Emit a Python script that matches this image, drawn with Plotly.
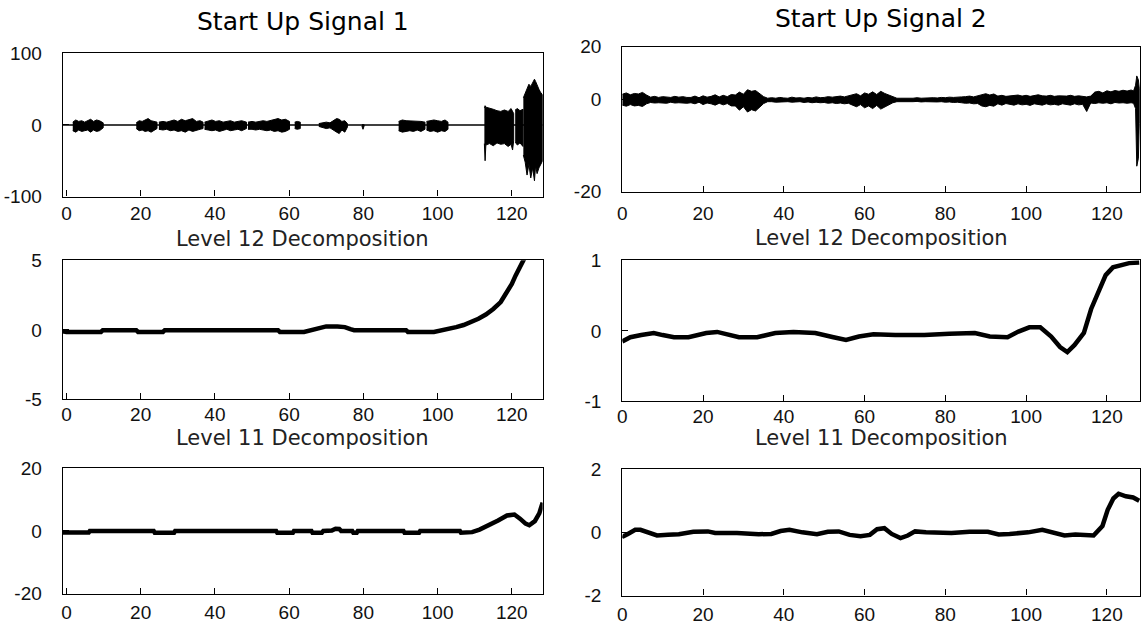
import plotly.graph_objects as go

# ---------------- Start Up Signal 1 (raw record) ----------------
s1_span = [-1.0, 128.3]          # record start / end on the time axis
# each burst: sample times, upper envelope, lower envelope
s1_burst_x = [
    [1.7, 2.5, 3.3, 4.1, 4.9, 5.7, 6.5, 7.3, 8.1, 8.9, 9.9],
    [18.8, 19.6, 20.4, 21.2, 22.0, 22.8, 23.6, 24.4],
    [24.9, 26, 27, 28, 29, 30, 31, 32, 33, 34, 35, 36, 36.8],
    [37.2, 38.2, 39.2, 40.2, 41.2, 42.2, 43.2, 44.2, 45.2, 46.2, 47.2, 48.5],
    [48.9, 50, 51, 52, 53, 54, 55, 56, 57, 58, 59, 60.1],
    [61.5, 62.2, 63.0],
    [68.0, 69.0, 70.0, 71.0, 72.0, 72.8, 73.5, 74.2, 75.0, 75.7],
    [79.6, 79.9, 80.2],
    [89.5, 90.5, 91.5, 92.5, 93.5, 94.5, 95.5, 96.6],
    [97.0, 98.0, 99.0, 100.0, 101.0, 102.0, 102.8],
    [112.6, 112.8, 113.0, 114, 115, 116, 117, 118, 119, 119.8, 120.2, 120.5],
    [120.9, 121.5, 122.2, 123.0],
    [123.1, 123.6, 124.1, 124.6, 125.1, 125.6, 126.1, 126.4, 126.8, 127.3, 127.7, 128.3],
]
s1_burst_hi = [
    [4, 7, 5, 6, 4, 6, 8, 5, 7, 6, 3],
    [3, 6, 5, 7, 9, 6, 5, 4],
    [4, 5, 4, 6, 7, 5, 8, 6, 7, 9, 5, 6, 4],
    [4, 5, 7, 5, 6, 4, 5, 6, 4, 5, 6, 4],
    [4, 5, 4, 5, 6, 5, 6, 7, 9, 7, 8, 5],
    [4, 5, 4],
    [2, 3, 4, 3, 6, 9, 8, 5, 6, 2],
    [0.5, 1, 0.5],
    [5, 7, 6, 6, 5, 6, 5, 4],
    [5, 6, 7, 6, 5, 7, 4],
    [24, 27, 25, 24, 22, 20, 19, 21, 19, 23, 20, 16],
    [21, 23, 20, 22],
    [38, 45, 52, 57, 54, 60, 64, 61, 55, 50, 46, 42],
]
s1_burst_lo = [
    [-8, -10, -7, -9, -8, -7, -10, -7, -9, -8, -4],
    [-5, -8, -7, -9, -8, -10, -7, -5],
    [-6, -7, -6, -8, -7, -9, -8, -10, -7, -9, -8, -6, -5],
    [-6, -7, -8, -7, -9, -7, -6, -8, -7, -6, -8, -5],
    [-6, -6, -7, -6, -7, -8, -7, -9, -8, -10, -9, -6],
    [-5, -6, -5],
    [-2, -3, -5, -4, -7, -10, -12, -7, -10, -3],
    [-1.5, -6, -1.5],
    [-8, -10, -9, -8, -9, -7, -9, -6],
    [-7, -9, -8, -10, -8, -9, -6],
    [-26, -50, -28, -26, -29, -25, -27, -26, -30, -27, -35, -22],
    [-24, -28, -25, -30],
    [-42, -52, -70, -55, -74, -60, -78, -57, -68, -60, -55, -50],
]

# ---------------- Start Up Signal 2 (raw record, envelope) ----------------
s2_x = [0, 1, 2, 3, 4, 5, 6,
        7, 8, 9, 10, 11, 12, 13, 14, 15, 16,
        17, 18, 19, 20, 21, 22, 23, 24, 25, 26, 27,
        28, 29, 30, 31, 32, 33, 34, 35,
        36, 37, 38, 39, 40, 41, 42, 43, 44, 45, 46, 47, 48, 49, 50, 51, 52, 53, 54, 55, 56,
        57, 58, 59, 60, 61, 62, 63, 64, 65, 66, 67,
        68, 69, 70, 71, 72, 73, 74, 75, 76, 77, 78, 79, 80, 81, 82, 83, 84,
        85, 86, 87, 88,
        89, 90, 91, 92,
        93, 94, 95, 96, 97, 98, 99, 100, 101, 102, 103, 104, 105, 106, 107, 108, 109, 110, 111, 112, 113, 114,
        115,
        116, 117, 118, 119, 120, 121, 122, 123, 124, 125, 126,
        126.6, 127.1, 127.4, 127.8, 128.0]
s2_hi = [2.1, 2.6, 1.9, 2.4, 2.2, 2.8, 1.8,
         1.0, 1.3, 0.9, 1.2, 1.1, 0.9, 1.3, 1.0, 1.2, 0.9,
         0.9, 1.4, 0.8, 1.5, 1.0, 1.3, 1.9, 1.1, 1.7, 1.2, 2.0,
         1.8, 2.9, 2.1, 3.8, 3.2, 3.5, 2.3, 1.2,
         0.6, 0.8, 0.6, 0.9, 0.7, 0.6, 1.0, 0.7, 0.8, 0.6, 0.9, 0.7, 1.1, 0.8, 0.9, 1.2, 1.0, 1.1, 1.4, 1.1, 1.5,
         1.8, 2.3, 1.5, 2.6, 2.1, 3.0, 2.0, 3.2, 2.4, 1.8, 1.1,
         0.6, 0.6, 0.7, 0.6, 0.6, 0.8, 0.6, 0.7, 0.6, 0.8, 0.7, 0.9, 0.8, 1.0, 0.9, 1.1, 1.1,
         1.2, 1.4, 1.1, 1.5,
         2.0, 2.3, 1.8, 2.2,
         1.4, 1.7, 1.3, 1.5, 1.5, 1.8, 1.4, 1.7, 1.3, 1.5, 1.9, 1.5, 1.4, 1.7, 1.3, 1.5, 1.5, 1.4, 1.7, 1.3, 1.5, 1.4,
         1.1,
         1.4, 2.9, 3.2, 2.6, 3.4, 3.0, 3.5, 3.2, 3.6, 3.3, 3.7,
         3.3, 5.5, 9.0, 7.5, 4.4]
s2_lo = [-2.0, -2.4, -1.8, -2.3, -2.1, -2.5, -1.5,
         -1.0, -1.2, -1.1, -1.1, -1.3, -0.9, -1.2, -1.1, -1.1, -1.3,
         -1.1, -1.5, -0.9, -1.8, -1.2, -1.5, -2.0, -1.3, -1.9, -1.4, -2.3,
         -2.3, -3.9, -2.6, -4.6, -3.7, -4.2, -2.9, -1.4,
         -0.7, -0.7, -0.9, -0.7, -0.8, -0.7, -0.9, -0.8, -0.7, -1.0, -0.8, -1.1, -0.9, -1.1, -1.0, -1.3, -1.1, -1.4, -1.2, -1.5, -1.3,
         -2.0, -2.6, -1.8, -3.0, -2.3, -3.3, -2.1, -3.5, -2.6, -2.0, -1.1,
         -0.7, -0.7, -0.6, -0.7, -0.7, -0.6, -0.8, -0.7, -0.7, -0.7, -0.8, -0.7, -0.9, -0.8, -1.0, -0.9, -1.1,
         -1.3, -1.2, -1.5, -1.4,
         -2.3, -2.6, -2.1, -2.4,
         -1.5, -2.0, -1.4, -1.8, -2.0, -1.5, -1.9, -1.7, -2.1, -1.5, -1.8, -2.0, -1.5, -1.9, -1.7, -2.0, -1.5, -1.8, -2.0, -1.5, -1.9, -1.7,
         -4.4,
         -1.2, -1.4, -1.1, -1.3, -1.1, -1.5, -1.0, -1.2, -1.1, -1.3, -1.1,
         -1.3, -3.3, -25.0, -22.0, -9.0]

# ---------------- Level 12 decomposition ----------------
d12_s1_x = [-1.0, 0, 9.3, 9.8, 18.8, 19.3, 26, 26.5, 57, 57.5, 64, 66, 68, 70, 73, 75,
            76.5, 77.5, 91.5, 92, 99, 101, 103, 105, 107, 109, 111, 113, 115, 117,
            118.5, 120, 121, 122, 123, 123.5, 124.5]
d12_s1_y = [-0.1, -0.15, -0.15, -0.02, -0.02, -0.15, -0.15, -0.02, -0.02, -0.15, -0.15, 0, 0.15, 0.25, 0.25, 0.2,
            0.05, -0.02, -0.02, -0.15, -0.15, -0.05, 0.05, 0.2, 0.35, 0.55, 0.8, 1.1, 1.5, 2.0,
            2.6, 3.3, 3.9, 4.4, 4.9, 5.2, 6.0]

d12_s2_x = [0, 2, 4.7, 7.8, 10, 12.8, 16.4, 20.8, 23.5, 26.2, 28.9, 33.4, 37.9, 42.4, 47.8, 52.3,
            55.4, 58.6, 62.2, 67.6, 74.8, 81, 87.3, 91, 95.4, 98.1, 100.8, 103.5, 106.2, 108.4,
            110.2, 112, 114.3, 116.1, 117.9, 119.7, 121.5, 123.3, 125.5, 128]
d12_s2_y = [-0.15, -0.09, -0.06, -0.03, -0.06, -0.09, -0.09, -0.03, -0.015, -0.06, -0.09, -0.09, -0.03, -0.015, -0.03, -0.09,
            -0.13, -0.08, -0.05, -0.06, -0.06, -0.04, -0.03, -0.08, -0.09, -0.01, 0.05, 0.05, -0.08, -0.23,
            -0.3, -0.2, -0.03, 0.31, 0.56, 0.79, 0.9, 0.93, 0.96, 0.97]

# ---------------- Level 11 decomposition ----------------
d11_s1_x = [-1.0, 6, 6.3, 23.5, 23.8, 29, 29.3, 56.5, 56.8, 61, 61.3, 66, 66.3, 68.8, 69.2, 71.5,
            72.5, 73.5, 74, 77, 77.3, 78.2, 78.5, 90.8, 91.1, 95, 95.3, 106, 106.3, 109.3,
            111.3, 113.3, 116.3, 118.7, 120.7, 122.2, 123.7, 124.7, 126.2, 127.4, 128.3]
d11_s1_y = [-0.5, -0.5, 0, 0, -0.6, -0.6, 0, 0, -0.6, -0.6, 0, 0, -0.6, -0.6, 0, 0.1,
            0.7, 0.6, 0, 0, -0.6, -0.6, 0, 0, -0.6, -0.6, 0, 0, -0.6, -0.4,
            0.4, 1.5, 3.3, 4.9, 5.2, 3.9, 2.3, 1.8, 3.1, 5.6, 9.0]

d11_s2_x = [0, 0.3, 1.4, 3.2, 4.5, 6.3, 8.6, 11.3, 14, 17.6, 21.2, 23, 28.4, 33.8, 36.9, 39.2,
            41.4, 44.6, 48.2, 50.9, 53.6, 56.3, 59, 61.3, 63.1, 64.9, 66.7, 68.9, 70.7, 72.5,
            75.2, 81.5, 86, 90.5, 93.2, 95.9, 100.5, 104, 106.8, 109.5, 112.2, 114.9, 116.7,
            118.9, 120.2, 121.6, 122.9, 124.7, 126.5, 128]
d11_s2_y = [-0.1, -0.12, -0.05, 0.08, 0.08, 0, -0.1, -0.08, -0.06, 0.02, 0.03, -0.02, -0.02, -0.06, -0.05, 0.04,
            0.08, 0, -0.06, 0.02, 0.03, -0.08, -0.12, -0.08, 0.1, 0.13, -0.05, -0.18, -0.1, 0.03,
            0, -0.02, 0.02, 0.02, -0.07, -0.05, 0, 0.08, 0, -0.1, -0.07, -0.1, -0.1,
            0.2, 0.71, 1.07, 1.22, 1.14, 1.1, 1.0]

x_ticks = [0, 20, 40, 60, 80, 100, 120]

BLACK = "#000000"
TITLE_FONT = "DejaVu Sans"
TICK_FONT = "Liberation Sans"
W, H = 1141, 625


def px_x(p):
    return p / W


def px_y(p):
    return 1 - p / H


def envelope_polygons(xs_list, hi_list, lo_list):
    px, py = [], []
    for xs, hi, lo in zip(xs_list, hi_list, lo_list):
        px += list(xs) + list(xs)[::-1] + [None]
        py += list(hi) + list(lo)[::-1] + [None]
    return px, py


fig = go.Figure()

# top-left: baseline of the record plus the filled bursts
fig.add_trace(go.Scatter(x=s1_span, y=[0, 0], mode="lines",
                         line=dict(color=BLACK, width=1.3), xaxis="x", yaxis="y"))
bx, by = envelope_polygons(s1_burst_x, s1_burst_hi, s1_burst_lo)
fig.add_trace(go.Scatter(x=bx, y=by, mode="lines", fill="toself", fillcolor=BLACK,
                         line=dict(color=BLACK, width=1), xaxis="x", yaxis="y"))

# top-right: dense record drawn as its envelope
ex, ey = envelope_polygons([s2_x], [s2_hi], [s2_lo])
fig.add_trace(go.Scatter(x=ex, y=ey, mode="lines", fill="toself", fillcolor=BLACK,
                         line=dict(color=BLACK, width=1), xaxis="x2", yaxis="y2"))

# decompositions
for xs, ys, xa, ya in [(d12_s1_x, d12_s1_y, "x3", "y3"),
                       (d12_s2_x, d12_s2_y, "x4", "y4"),
                       (d11_s1_x, d11_s1_y, "x5", "y5"),
                       (d11_s2_x, d11_s2_y, "x6", "y6")]:
    fig.add_trace(go.Scatter(x=xs, y=ys, mode="lines",
                             line=dict(color=BLACK, width=4.5), xaxis=xa, yaxis=ya))

tick_font = dict(family=TICK_FONT, size=19, color="#111111")


def xaxis(dom, rng, anchor, standoff):
    return dict(domain=dom, range=rng, anchor=anchor, tickvals=x_ticks,
                ticktext=[str(v) for v in x_ticks], ticks="inside", ticklen=6,
                tickwidth=1.2, tickcolor=BLACK, showline=True, linecolor=BLACK,
                linewidth=1.3, mirror=True, showgrid=False, zeroline=False,
                tickfont=tick_font, ticklabelstandoff=standoff, fixedrange=True)


def yaxis(dom, rng, vals, texts, anchor):
    return dict(domain=dom, range=rng, anchor=anchor, tickvals=vals, ticktext=texts,
                ticks="inside", ticklen=6, tickwidth=1.2, tickcolor=BLACK,
                showline=True, linecolor=BLACK, linewidth=1.3, mirror=True,
                showgrid=False, zeroline=False, tickfont=tick_font,
                ticklabelstandoff=16, fixedrange=True)


left_dom = [px_x(58), px_x(540)]
right_dom = [px_x(620), px_x(1140)]
left_rng = [-1.0, 128.3]
right_rng = [0, 128.2]

fig.update_layout(
    width=W, height=H,
    margin=dict(l=0, r=0, t=0, b=0, pad=0),
    paper_bgcolor="white", plot_bgcolor="white",
    showlegend=False,
    font=dict(family=TITLE_FONT, color=BLACK),
    xaxis=xaxis(left_dom, left_rng, "y", 0),
    yaxis=yaxis([px_y(193), px_y(45)], [-100, 100], [-100, 0, 100], ["-100", "0", "100"], "x"),
    xaxis2=xaxis(right_dom, right_rng, "y2", 4),
    yaxis2=yaxis([px_y(188), px_y(38)], [-34.6, 20], [-34.6, 0, 20], ["-20", "0", "20"], "x2"),
    xaxis3=xaxis(left_dom, left_rng, "y3", -2),
    yaxis3=yaxis([px_y(403), px_y(259)], [-5, 5], [-5, 0, 5], ["-5", "0", "5"], "x3"),
    xaxis4=xaxis(right_dom, right_rng, "y4", -2),
    yaxis4=yaxis([px_y(405), px_y(259)], [-1, 1], [-1, 0, 1], ["-1", "0", "1"], "x4"),
    xaxis5=xaxis(left_dom, left_rng, "y5", 1),
    yaxis5=yaxis([px_y(604), px_y(474)], [-20, 20], [-20, 0, 20], ["-20", "0", "20"], "x5"),
    xaxis6=xaxis(right_dom, right_rng, "y6", 1),
    yaxis6=yaxis([px_y(606), px_y(475)], [-2, 2], [-2, 0, 2], ["-2", "0", "2"], "x6"),
)

left_c = (left_dom[0] + left_dom[1]) / 2
right_c = (right_dom[0] + right_dom[1]) / 2
titles = [
    ("Start Up Signal 1", left_c, 12, 25, BLACK),
    ("Start Up Signal 2", right_c, 9, 25, BLACK),
    ("Level 12 Decomposition", left_c, 237, 21, "#222222"),
    ("Level 12 Decomposition", right_c, 236, 21, "#222222"),
    ("Level 11 Decomposition", left_c, 443, 21, "#222222"),
    ("Level 11 Decomposition", right_c, 443, 21, "#222222"),
]
for text, xc, yc, size, color in titles:
    fig.add_annotation(text=text, x=xc, y=px_y(yc), xref="paper", yref="paper",
                       xanchor="center", yanchor="middle", showarrow=False,
                       font=dict(family=TITLE_FONT, size=size, color=color))

fig.write_html("out.html")
